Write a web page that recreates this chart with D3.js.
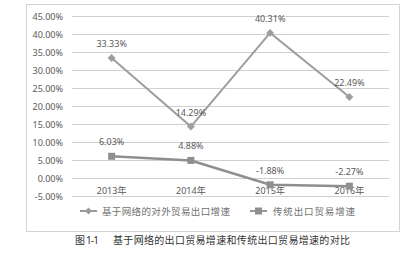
<!DOCTYPE html>
<html>
<head>
<meta charset="utf-8">
<script src="https://cdn.jsdelivr.net/npm/d3@7"></script>
<style>
  body { margin: 0; background: #fff; }
  svg text { font-family: "Noto Sans", "Noto Sans CJK SC", sans-serif; }
</style>
</head>
<body>
<svg id="chart" width="413" height="262"></svg>
<script>
// données
const years = ["2013年", "2014年", "2015年", "2016年"];
const onlineGrowth = [33.33, 14.29, 40.31, 22.49];
const tradGrowth = [6.03, 4.88, -1.88, -2.27];
const yTicks = [-5, 0, 5, 10, 15, 20, 25, 30, 35, 40, 45];
const seriesNames = ["基于网络的对外贸易出口增速", "传统出口贸易增速"];
const figNumber = "图 1-1";
const caption = "基于网络的出口贸易增速和传统出口贸易增速的对比";

const svg = d3.select("#chart");

// cadre du graphique
svg.append("rect")
  .attr("x", 26.5).attr("y", 4.5)
  .attr("width", 373).attr("height", 227)
  .attr("fill", "#fff")
  .attr("stroke", "#d4d4d4");

const x = d3.scaleBand().domain(years).range([72, 389]);
const y = d3.scaleLinear().domain([-5, 45]).range([196, 16]);

// grille
svg.append("g")
  .selectAll("line")
  .data(yTicks)
  .enter()
  .append("line")
  .attr("x1", 72).attr("x2", 389)
  .attr("y1", (d) => y(d) + 0.5).attr("y2", (d) => y(d) + 0.5)
  .attr("stroke", "#d0d0d0");

// axe Y
svg.append("g")
  .selectAll("text")
  .data(yTicks)
  .enter()
  .append("text")
  .attr("x", 63)
  .attr("y", (d) => y(d) + 3.5)
  .attr("text-anchor", "end")
  .attr("font-size", 9)
  .attr("fill", "#595959")
  .text((d) => d.toFixed(2) + "%");

// étiquettes X
svg.append("g")
  .selectAll("text")
  .data(years)
  .enter()
  .append("text")
  .attr("x", (d) => x(d) + x.bandwidth() / 2)
  .attr("y", 193.5)
  .attr("text-anchor", "middle")
  .attr("font-size", 9)
  .attr("fill", "#595959")
  .text((d) => d);

const cx = (d, i) => x(years[i]) + x.bandwidth() / 2;
const line = d3.line().x(cx).y((d) => y(d));

// série 1
svg.append("path")
  .datum(onlineGrowth)
  .attr("d", line)
  .attr("fill", "none")
  .attr("stroke", "#9e9e9e")
  .attr("stroke-width", 2);

svg.append("g")
  .selectAll("path")
  .data(onlineGrowth)
  .enter()
  .append("path")
  .attr("d", d3.symbol().type(d3.symbolDiamond2).size(40))
  .attr("transform", (d, i) => `translate(${cx(d, i)},${y(d)})`)
  .attr("fill", "#9e9e9e");

// série 2
svg.append("path")
  .datum(tradGrowth)
  .attr("d", line)
  .attr("fill", "none")
  .attr("stroke", "#8f8f8f")
  .attr("stroke-width", 2.5);

svg.append("g")
  .selectAll("rect")
  .data(tradGrowth)
  .enter()
  .append("rect")
  .attr("x", (d, i) => cx(d, i) - 3.5)
  .attr("y", (d) => y(d) - 3.5)
  .attr("width", 7).attr("height", 7)
  .attr("fill", "#8f8f8f");

// étiquettes de données
[onlineGrowth, tradGrowth].forEach((serie) => {
  svg.append("g")
    .selectAll("text")
    .data(serie)
    .enter()
    .append("text")
    .attr("x", (d, i) => cx(d, i))
    .attr("y", (d) => y(d) - 11)
    .attr("text-anchor", "middle")
    .attr("font-size", 9)
    .attr("fill", "#595959")
    .text((d) => d.toFixed(2) + "%");
});

// légende
const legend = [
  { x: 80, name: seriesNames[0], mark: "diamond", len: 128 },
  { x: 250, name: seriesNames[1], mark: "square", len: 82 },
];
legend.forEach((l) => {
  const g = svg.append("g").attr("transform", `translate(${l.x},211)`);
  g.append("line")
    .attr("x1", 0).attr("x2", 17)
    .attr("stroke", "#999").attr("stroke-width", 2);
  if (l.mark === "diamond") {
    g.append("path")
      .attr("d", d3.symbol().type(d3.symbolDiamond2).size(30))
      .attr("transform", "translate(8.5,0)")
      .attr("fill", "#999");
  } else {
    g.append("rect")
      .attr("x", 5).attr("y", -3.5).attr("width", 7).attr("height", 7)
      .attr("fill", "#8f8f8f");
  }
  g.append("text")
    .attr("x", l.x === 80 ? 22 : 23).attr("y", 3.5)
    .attr("font-size", 9.5)
    .attr("fill", "#707070")
    .attr("textLength", l.len)
    .attr("lengthAdjust", "spacing")
    .text(l.name);
});

// légende de la figure
svg.append("text")
  .attr("x", 75).attr("y", 243.5)
  .attr("font-size", 10)
  .attr("fill", "#333")
  .attr("textLength", 24)
  .attr("lengthAdjust", "spacing")
  .text(figNumber);

svg.append("text")
  .attr("x", 113).attr("y", 243.5)
  .attr("font-size", 10)
  .attr("fill", "#333")
  .attr("textLength", 237)
  .attr("lengthAdjust", "spacing")
  .text(caption);
</script>
</body>
</html>
